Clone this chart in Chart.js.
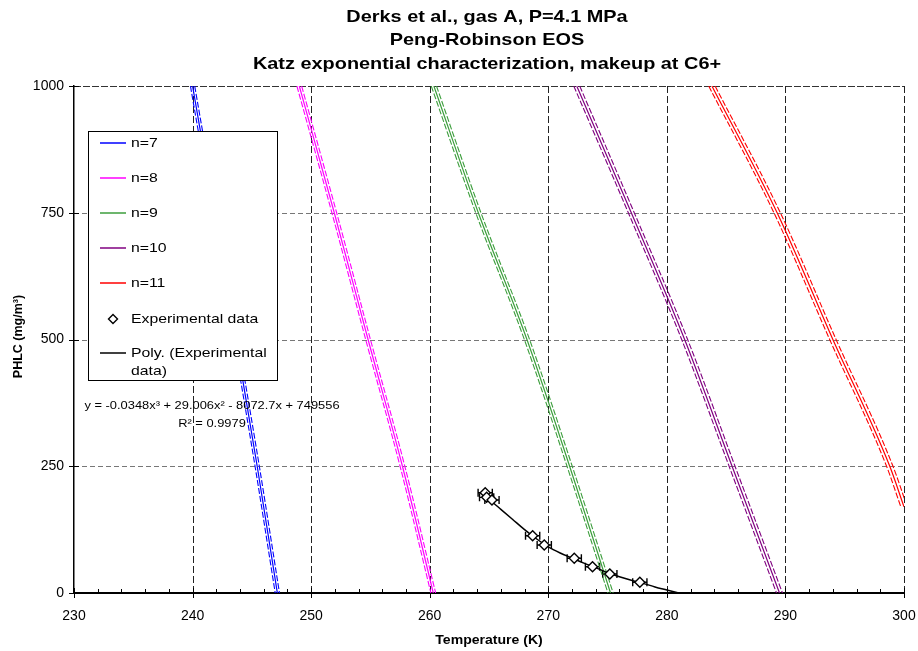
<!DOCTYPE html>
<html>
<head>
<meta charset="utf-8">
<title>PHLC vs temperature</title>
<script src="https://cdn.jsdelivr.net/npm/chart.js@4.4.1/dist/chart.umd.min.js"></script>
<style>
  html, body { margin: 0; padding: 0; background: #ffffff; }
  canvas { display: block; }
</style>
</head>
<body>
<canvas id="chart" width="918" height="651" style="width:918px;height:651px"></canvas>
<script>
// ---- text ----
const titleLines = [
  'Derks et al., gas A, P=4.1 MPa',
  'Peng-Robinson EOS',
  'Katz exponential characterization, makeup at C6+'
];
const xAxisTitle = 'Temperature (K)';
const yAxisTitle = 'PHLC (mg/m\u00B3)';
const equationLines = ['y = -0.0348x\u00B3 + 29.006x\u00B2 - 8072.7x + 749556', 'R\u00B2 = 0.9979'];

// ---- axes ----
const xTickValues = [230, 240, 250, 260, 270, 280, 290, 300];
const yTickValues = [0, 250, 500, 750, 1000];

// ---- model curves: temperature (K) at each PHLC level (mg/m3) ----
const seriesNames = ['n=7', 'n=8', 'n=9', 'n=10', 'n=11'];
const phlcLevels = [1000, 750, 500, 250, 0];
const phlcLevelsN11 = [1000, 750, 500, 250, 170];

const tempN7   = [240.00, 241.85, 243.65, 245.45, 247.15];
const tempN7Lo = [239.82, 241.67, 243.47, 245.27, 246.97];
const tempN7Hi = [240.18, 242.03, 243.83, 245.63, 247.33];

const tempN8   = [249.00, 251.95, 254.80, 257.70, 260.30];
const tempN8Lo = [248.80, 251.75, 254.60, 257.50, 260.10];
const tempN8Hi = [249.20, 252.15, 255.00, 257.90, 260.50];

const tempN9   = [260.35, 264.10, 268.20, 271.80, 275.25];
const tempN9Lo = [260.13, 263.88, 267.98, 271.58, 275.03];
const tempN9Hi = [260.57, 264.32, 268.42, 272.02, 275.47];

const tempN10   = [272.40, 277.00, 281.50, 285.50, 289.50];
const tempN10Lo = [272.15, 276.75, 281.25, 285.25, 289.25];
const tempN10Hi = [272.65, 277.25, 281.75, 285.75, 289.75];

const tempN11   = [283.80, 289.30, 294.00, 298.80, 300.00];
const tempN11Lo = [283.53, 289.03, 293.73, 298.53, 299.73];
const tempN11Hi = [284.07, 289.57, 294.27, 299.07, 300.27];

// ---- experimental points with temperature uncertainty ----
const expTemp = [264.68, 264.80, 265.25, 268.68, 269.66, 272.19, 273.73, 275.19, 277.72];
const expPhlc = [197.8, 188.7, 183.4, 113.0, 94.7, 68.4, 51.9, 37.5, 21.1];
const expTempErr = [0.6, 0.6, 0.6, 0.6, 0.6, 0.6, 0.6, 0.6, 0.6];

// ---- polynomial trend through the experimental data ----
const trendTemp = [264.7, 265.4, 266, 267, 268, 269, 270, 271, 272, 273, 274, 275, 276, 277, 278, 279, 280, 281];
const trendPhlc = [190, 177, 165, 145, 125, 107, 91, 79, 69, 59, 50, 40, 32, 25, 19, 12, 6, 0];

// ---- styles ----
const FONT = '"Liberation Sans", Arial, Helvetica, sans-serif';
const seriesColors = ['#0000ff', '#ff00ff', '#3c9e3c', '#800080', '#ff0000'];
const TEXT_STRETCH = 1.17;

function pts(ts, ps) { return ts.map((t, i) => ({ x: t, y: ps[i] })); }

const curveSets = [
  [tempN7, tempN7Lo, tempN7Hi, phlcLevels],
  [tempN8, tempN8Lo, tempN8Hi, phlcLevels],
  [tempN9, tempN9Lo, tempN9Hi, phlcLevels],
  [tempN10, tempN10Lo, tempN10Hi, phlcLevels],
  [tempN11, tempN11Lo, tempN11Hi, phlcLevelsN11]
];

const datasets = [];
datasets.push({
  label: 'Experimental data',
  data: pts(expTemp, expPhlc),
  showLine: false,
  pointStyle: 'rectRot',
  pointRadius: 5,
  pointBorderWidth: 1.4,
  pointBorderColor: '#000000',
  pointBackgroundColor: '#ffffff'
});
datasets.push({
  label: 'Poly. (Experimental data)',
  data: pts(trendTemp, trendPhlc),
  showLine: true,
  borderColor: '#000000',
  borderWidth: 1.5,
  pointRadius: 0,
  cubicInterpolationMode: 'monotone'
});
curveSets.forEach((set, i) => {
  const [mid, lo, hi, levels] = set;
  datasets.push({
    label: seriesNames[i],
    data: pts(mid, levels),
    showLine: true, borderColor: seriesColors[i], borderWidth: 1.2, pointRadius: 0,
    cubicInterpolationMode: 'monotone'
  });
  [lo, hi].forEach(edge => datasets.push({
    label: seriesNames[i] + ' bound',
    data: pts(edge, levels),
    showLine: true, borderColor: seriesColors[i], borderWidth: 1.1, borderDash: [6, 2],
    pointRadius: 0, cubicInterpolationMode: 'monotone'
  }));
});

function stretchedText(ctx, text, x, y, align) {
  ctx.save();
  ctx.translate(x, y);
  ctx.scale(TEXT_STRETCH, 1);
  ctx.textAlign = align;
  ctx.fillText(text, 0, 0);
  ctx.restore();
}

const decor = {
  id: 'decor',
  beforeDatasetsDraw(chart) {
    const { ctx, chartArea: a, scales: { x, y } } = chart;
    ctx.save();
    ctx.lineWidth = 1;
    // horizontal grid
    ctx.strokeStyle = '#777777';
    ctx.setLineDash([5, 3]);
    yTickValues.forEach(v => {
      if (v === 0) return;
      const py = Math.round(y.getPixelForValue(v)) + 0.5;
      if (v === 1000) { ctx.strokeStyle = '#333333'; ctx.setLineDash([7, 2]); }
      ctx.beginPath(); ctx.moveTo(a.left, py); ctx.lineTo(a.right, py); ctx.stroke();
    });
    // vertical grid
    ctx.strokeStyle = '#222222';
    ctx.setLineDash([7, 3]);
    xTickValues.forEach(v => {
      if (v === 230) return;
      const px = Math.round(x.getPixelForValue(v)) + 0.5;
      ctx.beginPath(); ctx.moveTo(px, a.top); ctx.lineTo(px, a.bottom); ctx.stroke();
    });
    ctx.setLineDash([]);
    // tick marks
    ctx.strokeStyle = '#000000';
    for (let v = 230; v <= 300; v += 2) {
      const px = Math.round(x.getPixelForValue(v)) + 0.5;
      ctx.beginPath(); ctx.moveTo(px, a.bottom); ctx.lineTo(px, a.bottom - 4); ctx.stroke();
    }
    xTickValues.forEach(v => {
      const px = Math.round(x.getPixelForValue(v)) + 0.5;
      ctx.beginPath(); ctx.moveTo(px, a.bottom - 5); ctx.lineTo(px, a.bottom + 5); ctx.stroke();
    });
    yTickValues.forEach(v => {
      const py = Math.round(y.getPixelForValue(v)) + 0.5;
      ctx.beginPath(); ctx.moveTo(a.left - 5, py); ctx.lineTo(a.left + 5, py); ctx.stroke();
    });
    // horizontal error bars on the experimental points
    ctx.lineWidth = 1.4;
    expTemp.forEach((t, i) => {
      const py = y.getPixelForValue(expPhlc[i]);
      const x1 = x.getPixelForValue(t - expTempErr[i]);
      const x2 = x.getPixelForValue(t + expTempErr[i]);
      ctx.beginPath();
      ctx.moveTo(x1, py); ctx.lineTo(x2, py);
      ctx.moveTo(x1, py - 4); ctx.lineTo(x1, py + 4);
      ctx.moveTo(x2, py - 4); ctx.lineTo(x2, py + 4);
      ctx.stroke();
    });
    ctx.restore();
  },
  afterDraw(chart) {
    const { ctx, chartArea: a } = chart;
    ctx.save();
    ctx.fillStyle = '#000000';
    ctx.textBaseline = 'alphabetic';

    // title
    ctx.font = 'bold 17px ' + FONT;
    const titleBase = [21.5, 45, 68.5];
    titleLines.forEach((t, i) => stretchedText(ctx, t, 487, titleBase[i], 'center'));

    // axis titles
    ctx.font = 'bold 12px ' + FONT;
    stretchedText(ctx, xAxisTitle, (a.left + a.right) / 2, 644, 'center');
    ctx.save();
    ctx.translate(22, (a.top + a.bottom) / 2 - 3);
    ctx.rotate(-Math.PI / 2);
    ctx.font = 'bold 12.5px ' + FONT;
    ctx.textAlign = 'center';
    ctx.fillText(yAxisTitle, 0, 0);
    ctx.restore();

    // trend equation
    ctx.font = '11px ' + FONT;
    stretchedText(ctx, equationLines[0], 212, 409, 'center');
    stretchedText(ctx, equationLines[1], 212, 426.5, 'center');

    // legend
    const box = { left: 88.5, top: 131.5, right: 277.5, bottom: 380.5 };
    ctx.fillStyle = '#ffffff';
    ctx.fillRect(box.left, box.top, box.right - box.left, box.bottom - box.top);
    ctx.strokeStyle = '#000000';
    ctx.lineWidth = 1;
    ctx.strokeRect(box.left, box.top, box.right - box.left, box.bottom - box.top);

    const rowY = [143, 178, 213, 248, 283, 319, 353];
    const sampleX1 = 100, sampleX2 = 126, textX = 131;
    ctx.font = '13.5px ' + FONT;
    ctx.textBaseline = 'middle';
    seriesNames.forEach((name, i) => {
      ctx.strokeStyle = seriesColors[i];
      ctx.lineWidth = 1.5;
      ctx.beginPath(); ctx.moveTo(sampleX1, rowY[i]); ctx.lineTo(sampleX2, rowY[i]); ctx.stroke();
      ctx.fillStyle = '#000000';
      stretchedText(ctx, name, textX, rowY[i], 'left');
    });
    // diamond marker sample
    const dy = rowY[5], dx = 113;
    ctx.strokeStyle = '#000000'; ctx.lineWidth = 1.4; ctx.fillStyle = '#ffffff';
    ctx.beginPath();
    ctx.moveTo(dx, dy - 4.5); ctx.lineTo(dx + 4.5, dy); ctx.lineTo(dx, dy + 4.5); ctx.lineTo(dx - 4.5, dy); ctx.closePath();
    ctx.fill(); ctx.stroke();
    ctx.fillStyle = '#000000';
    stretchedText(ctx, 'Experimental data', textX, dy, 'left');
    // trend sample
    ctx.strokeStyle = '#000000'; ctx.lineWidth = 1.5;
    ctx.beginPath(); ctx.moveTo(sampleX1, rowY[6]); ctx.lineTo(sampleX2, rowY[6]); ctx.stroke();
    stretchedText(ctx, 'Poly. (Experimental', textX, rowY[6], 'left');
    stretchedText(ctx, 'data)', textX, rowY[6] + 18.5, 'left');

    ctx.restore();
  }
};

new Chart(document.getElementById('chart'), {
  type: 'scatter',
  data: { datasets },
  options: {
    responsive: false,
    animation: false,
    devicePixelRatio: 1,
    layout: { padding: { top: 86, right: 14, left: 0, bottom: 0 } },
    plugins: { legend: { display: false }, title: { display: false }, tooltip: { enabled: false } },
    elements: { line: { fill: false } },
    scales: {
      x: {
        type: 'linear', min: 230, max: 300,
        afterFit: s => { s.height = 58; s.paddingLeft = 0; s.paddingRight = 0; },
        afterBuildTicks: s => { s.ticks = xTickValues.map(v => ({ value: v })); },
        grid: { display: false, drawTicks: false },
        border: { display: true, color: '#000000', width: 2 },
        ticks: { font: { family: FONT, size: 14 }, color: '#000000', padding: 15, maxRotation: 0,
                 callback: v => String(v) }
      },
      y: {
        type: 'linear', min: 0, max: 1000,
        afterFit: s => { s.width = 74; s.paddingTop = 0; s.paddingBottom = 0; },
        afterBuildTicks: s => { s.ticks = yTickValues.map(v => ({ value: v })); },
        grid: { display: false, drawTicks: false },
        border: { display: true, color: '#000000', width: 1.5 },
        ticks: { font: { family: FONT, size: 14 }, color: '#000000', padding: 10,
                 callback: v => String(v) }
      }
    }
  },
  plugins: [decor]
});
</script>
</body>
</html>
